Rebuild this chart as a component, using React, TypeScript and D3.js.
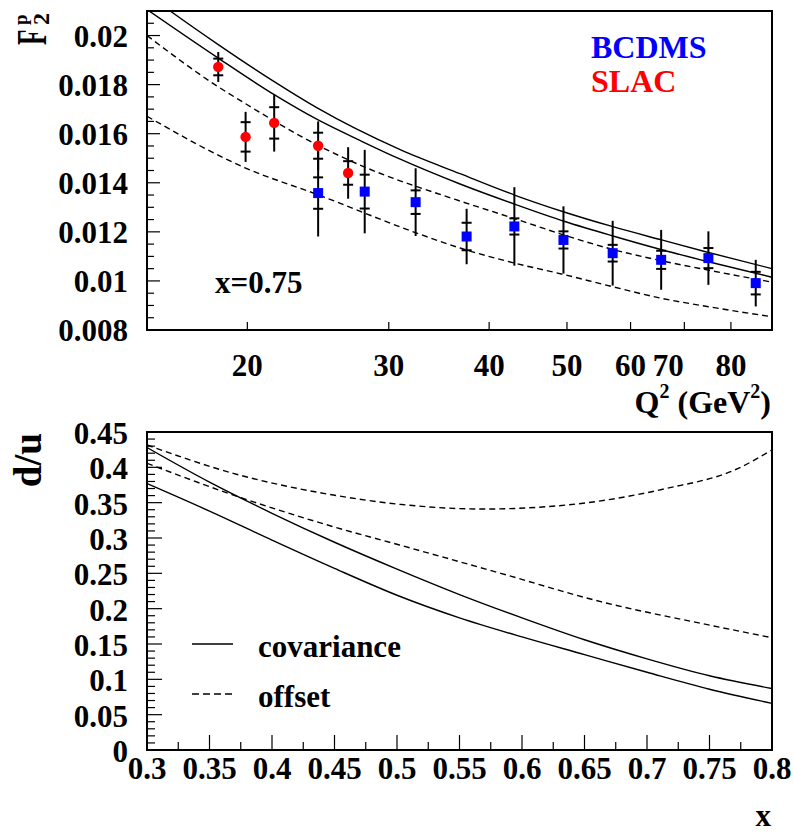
import React from 'react';
import * as d3 from 'd3';

// ---------- Top panel data (F2p vs Q2 at x=0.75) ----------
const slacQ2 = [18.4, 19.9, 21.6, 24.5, 26.7];
const slacF2 = [0.01872, 0.01587, 0.01644, 0.01551, 0.0144];
const slacStat = [0.00034, 0.0006, 0.00064, 0.00053, 0.00048];
const slacTot = [0.00061, 0.00102, 0.00117, 0.00099, 0.00105];

const bcdmsQ2 = [24.5, 28.0, 32.4, 37.5, 43.0, 49.5, 57.0, 65.5, 75.0, 85.9];
const bcdmsF2 = [0.01358, 0.01364, 0.01321, 0.01181, 0.01222, 0.01167, 0.01113, 0.01086, 0.01093, 0.00991];
const bcdmsStat = [0.00064, 0.00069, 0.00048, 0.00056, 0.00033, 0.00035, 0.00034, 0.00037, 0.00041, 0.00046];
const bcdmsTot = [0.00177, 0.0017, 0.00138, 0.00113, 0.0016, 0.00137, 0.00132, 0.00122, 0.00109, 0.00095];

const covUpQ2 = [15, 16.0, 18.4, 21.6, 24.4, 31.0, 36.8, 43.1, 49.7, 56.9, 65.6, 75.0, 90];
const covUpF2 = [0.02169, 0.02102, 0.01963, 0.01812, 0.01706, 0.01535, 0.01437, 0.01349, 0.0128, 0.01222, 0.01167, 0.01116, 0.0105];
const covLoQ2 = [15, 18.4, 21.6, 24.4, 27.8, 31.0, 36.8, 43.1, 49.7, 56.9, 65.6, 75.0, 90];
const covLoF2 = [0.02106, 0.01908, 0.01759, 0.01659, 0.01568, 0.01496, 0.01395, 0.01312, 0.01242, 0.01184, 0.01127, 0.01078, 0.01015];
const offUpQ2 = [15, 18.3, 19.9, 24.5, 28.0, 36.3, 43.1, 49.7, 56.9, 65.6, 75.0, 90];
const offUpF2 = [0.02, 0.01796, 0.01722, 0.01552, 0.01464, 0.01332, 0.01253, 0.01186, 0.01129, 0.01082, 0.01044, 0.00995];
const offLoQ2 = [15, 19.9, 24.5, 32.5, 36.8, 43.1, 49.7, 56.9, 65.6, 75.0, 90];
const offLoF2 = [0.01671, 0.0146, 0.01351, 0.01195, 0.01134, 0.01072, 0.01025, 0.00977, 0.00929, 0.00895, 0.00854];

const q2Ticks = [20, 30, 40, 50, 60, 70, 80];

// ---------- Bottom panel data (d/u vs x) ----------
const xGrid = [0.3, 0.35, 0.4, 0.45, 0.5, 0.55, 0.6, 0.65, 0.7, 0.75, 0.8];
const covUpDU = [0.428, 0.379, 0.335, 0.294, 0.256, 0.220, 0.187, 0.156, 0.129, 0.105, 0.087];
const covLoDU = [0.377, 0.338, 0.297, 0.257, 0.219, 0.187, 0.160, 0.135, 0.110, 0.086, 0.066];
const offUpX = [0.3, 0.369, 0.449, 0.502, 0.569, 0.636, 0.716, 0.77, 0.8];
const offUpDU = [0.4316, 0.3915, 0.3608, 0.3477, 0.341, 0.3467, 0.3703, 0.3962, 0.4245];
const offLoX = [0.3, 0.369, 0.449, 0.502, 0.583, 0.663, 0.743, 0.8];
const offLoDU = [0.4057, 0.3608, 0.316, 0.2901, 0.25, 0.2099, 0.1793, 0.1589];

const FONT = "'Liberation Serif', 'Times New Roman', serif";

export default function App() {
  const L = 147, R = 772;
  const tT = 11, tB = 330;
  const bT = 432, bB = 750;

  const xq = d3.scaleLog().domain([15, 90]).range([L, R]);
  const yf = d3.scaleLinear().domain([0.008, 0.021]).range([tB, tT]);
  const xx = d3.scaleLinear().domain([0.3, 0.8]).range([L, R]);
  const yd = d3.scaleLinear().domain([0, 0.45]).range([bB, bT]);

  const lineTop = (qs: number[], fs: number[]) =>
    d3.line<number>().x((_, i) => xq(qs[i])).y((_, i) => yf(fs[i])).curve(d3.curveMonotoneX)(qs) || '';
  const lineBot = (xs: number[], vs: number[]) =>
    d3.line<number>().x((_, i) => xx(xs[i])).y((_, i) => yd(vs[i])).curve(d3.curveMonotoneX)(xs) || '';

  const dash = '6,4';

  const fMajor = d3.range(0.008, 0.02001, 0.002);
  const fMinor = d3.range(0.008, 0.02101, 0.0005);
  const duMajor = d3.range(0, 0.4501, 0.05);
  const duMinor = d3.range(0, 0.4501, 0.01);
  const xMajor = d3.range(0.3, 0.8001, 0.05);
  const xMinor = d3.range(0.3, 0.8001, 0.025);

  const fmtF = (v: number) => v.toFixed(3).replace(/0+$/, '');
  const fmtD = (v: number) => (Math.abs(v) < 1e-9 ? '0' : String(+v.toFixed(2)));

  const errBar = (q: number, f: number, st: number, tot: number, key: string) => (
    <g key={key} stroke="#000" strokeWidth={2}>
      <line x1={xq(q)} x2={xq(q)} y1={yf(f - tot)} y2={yf(f + tot)} />
      <line x1={xq(q) - 5} x2={xq(q) + 5} y1={yf(f - st)} y2={yf(f - st)} />
      <line x1={xq(q) - 5} x2={xq(q) + 5} y1={yf(f + st)} y2={yf(f + st)} />
    </g>
  );

  return (
    <svg width={794} height={834} style={{ position: 'absolute', left: 0, top: 0, background: '#fff' }}
      fontFamily={FONT} fontWeight="bold">
      <defs>
        <clipPath id="clipTop"><rect x={L} y={tT} width={R - L} height={tB - tT} /></clipPath>
        <clipPath id="clipBot"><rect x={L} y={bT} width={R - L} height={bB - bT} /></clipPath>
      </defs>
      <rect x={0} y={0} width={794} height={834} fill="#fff" />

      {/* ================= TOP PANEL ================= */}
      <g clipPath="url(#clipTop)" fill="none" stroke="#000" strokeWidth={1.4}>
        <path d={lineTop(covUpQ2, covUpF2)} />
        <path d={lineTop(covLoQ2, covLoF2)} />
        <path d={lineTop(offUpQ2, offUpF2)} strokeDasharray={dash} />
        <path d={lineTop(offLoQ2, offLoF2)} strokeDasharray={dash} />
      </g>

      {slacQ2.map((q, i) => errBar(q, slacF2[i], slacStat[i], slacTot[i], 's' + i))}
      {bcdmsQ2.map((q, i) => errBar(q, bcdmsF2[i], bcdmsStat[i], bcdmsTot[i], 'b' + i))}
      {slacQ2.map((q, i) => (
        <circle key={'sc' + i} cx={xq(q)} cy={yf(slacF2[i])} r={5.2} fill="#ff0000" />
      ))}
      {bcdmsQ2.map((q, i) => (
        <rect key={'br' + i} x={xq(q) - 5} y={yf(bcdmsF2[i]) - 5} width={10} height={10} fill="#0000ff" />
      ))}

      {/* ticks top */}
      <g stroke="#000" strokeWidth={1.2}>
        {fMinor.map((v, i) => {
          const isMaj = Math.abs((v - 0.008) / 0.002 - Math.round((v - 0.008) / 0.002)) < 1e-6;
          return <line key={'fm' + i} x1={L} x2={L + (isMaj ? 13 : 7)} y1={yf(v)} y2={yf(v)} />;
        })}
        {q2Ticks.map((q, i) => (
          <line key={'qt' + i} x1={xq(q)} x2={xq(q)} y1={tB} y2={tB - 8} />
        ))}
      </g>
      <rect x={L} y={tT} width={R - L} height={tB - tT} fill="none" stroke="#000" strokeWidth={2} />

      <g fontSize={31} fill="#000">
        {fMajor.map((v, i) => (
          <text key={'fl' + i} x={128} y={yf(v) + 11} textAnchor="end">{fmtF(v)}</text>
        ))}
        {q2Ticks.map((q, i) => (
          <text key={'ql' + i} x={xq(q) + (q === 70 ? -16 : 0)} y={376} textAnchor="middle">{q}</text>
        ))}
        <text x={215} y={293}>x=0.75</text>
      </g>

      <text x={771} y={413} textAnchor="end" fontSize={32}>
        Q<tspan dy={-15} fontSize={20}>2</tspan>
        <tspan dy={15}> (GeV</tspan>
        <tspan dy={-15} fontSize={20}>2</tspan>
        <tspan dy={15}>)</tspan>
      </text>

      <text x={591} y={58} fontSize={32} fill="#0000ff">BCDMS</text>
      <text x={591} y={92} fontSize={32} fill="#ff0000">SLAC</text>

      {/* F2p label */}
      <g transform="translate(46,45) rotate(-90)">
        <text transform="scale(0.6,1)" fontSize={42}>F</text>
        <text x={20} y={-19.5} fontSize={19}>p</text>
        <text x={20} y={3} fontSize={24}>2</text>
      </g>

      {/* ================= BOTTOM PANEL ================= */}
      <g clipPath="url(#clipBot)" fill="none" stroke="#000" strokeWidth={1.4}>
        <path d={lineBot(xGrid, covUpDU)} />
        <path d={lineBot(xGrid, covLoDU)} />
        <path d={lineBot(offUpX, offUpDU)} strokeDasharray={dash} />
        <path d={lineBot(offLoX, offLoDU)} strokeDasharray={dash} />
      </g>

      <g stroke="#000" strokeWidth={1.2}>
        {duMinor.map((v, i) => (
          <line key={'dm' + i} x1={L} x2={L + (i % 5 === 0 ? 15 : 8)} y1={yd(v)} y2={yd(v)} />
        ))}
        {xMinor.map((v, i) => (
          <line key={'xm' + i} x1={xx(v)} x2={xx(v)} y1={bB} y2={bB - (i % 2 === 0 ? 15 : 8)} />
        ))}
      </g>
      <rect x={L} y={bT} width={R - L} height={bB - bT} fill="none" stroke="#000" strokeWidth={2} />

      <g fontSize={31} fill="#000">
        {duMajor.map((v, i) => (
          <text key={'dl' + i} x={128} y={yd(v) + 12} textAnchor="end">{fmtD(v)}</text>
        ))}
        {xMajor.map((v, i) => (
          <text key={'xl' + i} x={xx(v)} y={779} textAnchor="middle">{fmtD(v)}</text>
        ))}
        <text x={771} y={826} textAnchor="end">x</text>
      </g>

      <text transform="translate(41,433) rotate(-90)" textAnchor="end" fontSize={39}>d/u</text>

      {/* legend */}
      <line x1={192} x2={233} y1={644} y2={644} stroke="#000" strokeWidth={1.4} />
      <line x1={192} x2={233} y1={694} y2={694} stroke="#000" strokeWidth={1.4} strokeDasharray="7,4" />
      <text x={258} y={657} fontSize={31}>covariance</text>
      <text x={258} y={707} fontSize={31}>offset</text>
    </svg>
  );
}
